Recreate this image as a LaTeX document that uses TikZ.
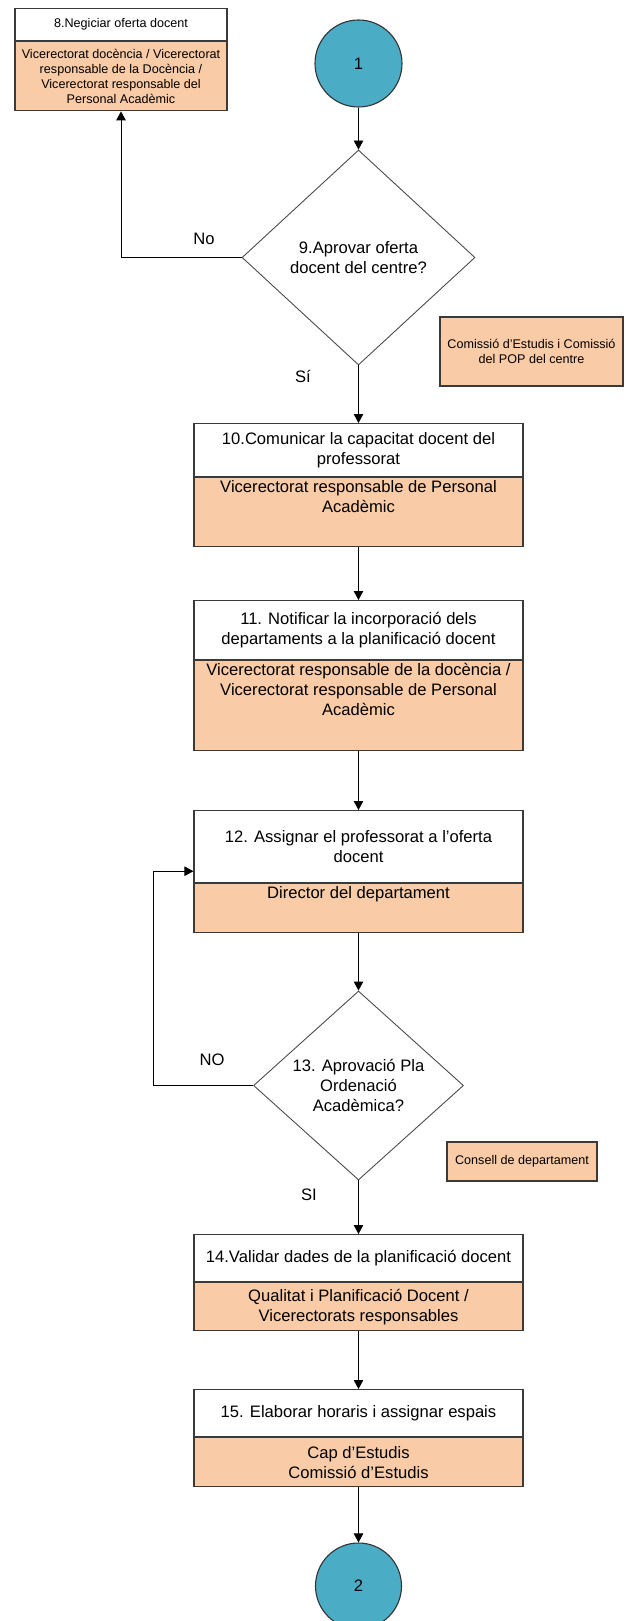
\documentclass[tikz,border=0pt]{standalone}
\usepackage{fontspec}
\setmainfont{Liberation Sans}
\usetikzlibrary{arrows.meta,shapes.geometric,calc}
\definecolor{peach}{HTML}{F9CBA6}
\definecolor{conn}{HTML}{4BACC6}
\definecolor{edgegray}{HTML}{3A3A3A}

\begin{document}
\begin{tikzpicture}[x=1pt,y=-1pt,
  big/.style={font=\fontsize{16.6}{20}\selectfont},
  small/.style={font=\fontsize{12.6}{15}\selectfont},
  title/.style={draw=edgegray,line width=1.2pt,fill=white,anchor=north,inner sep=0pt,align=center,minimum width=329pt},
  role/.style={draw=edgegray,line width=1.2pt,fill=peach,anchor=north,inner sep=0pt,align=center,minimum width=329pt},
  roletop/.style={anchor=north,inner sep=3pt,align=center,big},
  decide/.style={diamond,draw=black!70,line width=0.9pt,fill=white,inner sep=0pt,align=center,big},
  link/.style={circle,draw=black!80,line width=1.1pt,fill=conn,minimum size=87pt,inner sep=0pt,big},
  flow/.style={draw,line width=0.9pt,-{Triangle[length=9pt,width=9.5pt]}}]
\useasboundingbox (0,0) rectangle (625,1621);

\node[link] (c1) at (358.5,63.5) {1};

% 8
\node[title,small,minimum width=212pt,minimum height=32pt] (t8) at (121,8) {8.Negiciar oferta docent};
\node[role,small,minimum width=212pt,minimum height=69pt] (r8) at (t8.south) {Vicerectorat docència / Vicerectorat\\responsable de la Docència /\\Vicerectorat responsable del\\Personal Acadèmic};

% 9
\node[decide,minimum width=233pt,minimum height=215pt] (d9) at (358.5,257.5) {9.Aprovar oferta\\docent del centre?};
\node[draw=edgegray,line width=1.2pt,fill=peach,small,align=center,minimum width=183pt,minimum height=69pt,inner sep=0pt] (k9) at (531.5,351.5) {Comissió d’Estudis i Comissió\\del POP del centre};
\node[big] (no9) at (204,239) {No};
\node[big] (si9) at (303,376) {Sí};

% 10
\node[title,big,minimum height=53pt] (t10) at (358.5,423) {10.Comunicar la capacitat docent del\\professorat};
\node[role,minimum height=69pt,label={[roletop]north:Vicerectorat responsable de Personal\\Acadèmic}] (r10) at (t10.south) {};

% 11
\node[title,big,minimum height=59pt] (t11) at (358.5,600) {11. Notificar la incorporació dels\\departaments a la planificació docent};
\node[role,minimum height=90pt,label={[roletop]north:Vicerectorat responsable de la docència /\\Vicerectorat responsable de Personal\\Acadèmic}] (r11) at (t11.south) {};

% 12
\node[title,big,minimum height=72pt] (t12) at (358.5,810) {12. Assignar el professorat a l’oferta\\docent};
\node[role,minimum height=49pt,label={[roletop]north:Director del departament}] (r12) at (t12.south) {};

% 13
\node[decide,minimum width=210pt,minimum height=189pt] (d13) at (358.5,1085.5) {13. Aprovació Pla\\Ordenació\\Acadèmica?};
\node[draw=edgegray,line width=1.2pt,fill=peach,small,minimum width=150pt,minimum height=39pt,inner sep=0pt] (k13) at (522,1161.5) {Consell de departament};
\node[big] (no13) at (212,1060) {NO};
\node[big] (si13) at (309,1195) {SI};

% 14
\node[title,big,minimum height=47pt] (t14) at (358.5,1234) {14.Validar dades de la planificació docent};
\node[role,big,minimum height=48pt] (r14) at (t14.south) {Qualitat i Planificació Docent /\\Vicerectorats responsables};

% 15
\node[title,big,minimum height=47pt] (t15) at (358.5,1389) {15. Elaborar horaris i assignar espais};
\node[role,big,minimum height=49pt] (r15) at (t15.south) {Cap d’Estudis\\Comissió d’Estudis};

\node[link,minimum size=86pt] (c2) at (358.5,1586) {2};

\draw[flow] (c1) -- (d9);
\draw[flow] (d9.west) -| (r8.south);
\draw[flow] (d9) -- (t10);
\draw[flow] (r10) -- (t11);
\draw[flow] (r11) -- (t12);
\draw[flow] (r12) -- (d13);
\draw[flow] (d13.west) -- ++(-100,0) |- ($(t12.south west)+(0,-12)$);
\draw[flow] (d13) -- (t14);
\draw[flow] (r14) -- (t15);
\draw[flow] (r15) -- (c2);
\end{tikzpicture}
\end{document}
